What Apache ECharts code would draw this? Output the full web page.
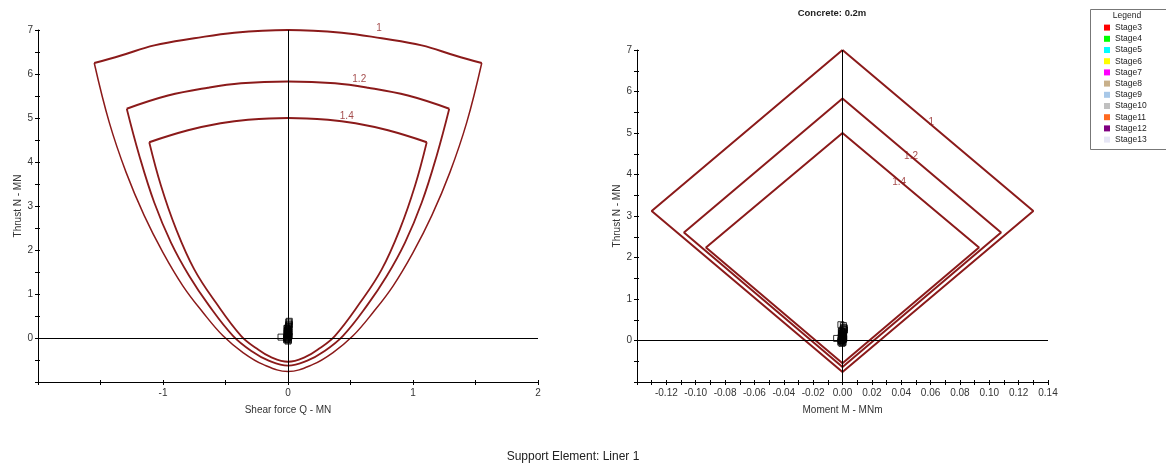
<!DOCTYPE html>
<html>
<head>
<meta charset="utf-8">
<script src="https://cdn.jsdelivr.net/npm/echarts@6/dist/echarts.min.js"></script>
<style>html,body{margin:0;padding:0;background:#fff}#c{width:1166px;height:468px}</style>
</head>
<body>
<div id="c"></div>
<script>
const FONT = '"Liberation Sans", Arial, sans-serif';
const ENV_COLOR = '#8b1a1a';

const factorLabels = ['1', '1.2', '1.4'];

// Shear force Q – Thrust N capacity envelopes (FS = 1, 1.2, 1.4)
const shearArc1 = [[-1.55,6.25],[-1.336,6.42],[-1.07,6.65],[-0.75,6.81],[-0.43,6.94],[0,7.0],[0.43,6.94],[0.75,6.81],[1.07,6.65],[1.336,6.42],[1.55,6.25]];
const shearU1 = [[-1.55,6.25],[-1.43,4.90],[-1.296,3.77],[-1.15,2.78],[-1.00,1.94],[-0.84,1.18],[-0.68,0.58],[-0.52,0.05],[-0.36,-0.33],[-0.20,-0.60],[0,-0.76],[0.20,-0.60],[0.36,-0.33],[0.52,0.05],[0.68,0.58],[0.84,1.18],[1.00,1.94],[1.15,2.78],[1.296,3.77],[1.43,4.90],[1.55,6.25]];
const shearArc2 = [[-1.29,5.21],[-0.96,5.51],[-0.64,5.69],[-0.376,5.79],[0,5.83],[0.376,5.79],[0.64,5.69],[0.96,5.51],[1.29,5.21]];
const shearU2 = [[-1.29,5.21],[-1.19,4.15],[-1.07,3.08],[-0.936,2.17],[-0.79,1.41],[-0.63,0.73],[-0.44,0.05],[-0.29,-0.30],[-0.15,-0.52],[0,-0.63],[0.15,-0.52],[0.29,-0.30],[0.44,0.05],[0.63,0.73],[0.79,1.41],[0.936,2.17],[1.07,3.08],[1.19,4.15],[1.29,5.21]];
const shearArc3 = [[-1.11,4.45],[-0.80,4.72],[-0.54,4.88],[-0.32,4.96],[0,5.0],[0.32,4.96],[0.54,4.88],[0.80,4.72],[1.11,4.45]];
const shearU3 = [[-1.11,4.45],[-1.016,3.46],[-0.896,2.48],[-0.75,1.56],[-0.576,0.80],[-0.376,0.05],[-0.25,-0.24],[-0.14,-0.43],[0,-0.54],[0.14,-0.43],[0.25,-0.24],[0.376,0.05],[0.576,0.80],[0.75,1.56],[0.896,2.48],[1.016,3.46],[1.11,4.45]];

// Moment M – Thrust N capacity envelopes
const momentEnv1 = [[0,7.0],[0.13,3.12],[0,-0.76],[-0.13,3.12],[0,7.0]];
const momentEnv2 = [[0,5.83],[0.108,2.60],[0,-0.64],[-0.108,2.60],[0,5.83]];
const momentEnv3 = [[0,5.0],[0.093,2.24],[0,-0.55],[-0.093,2.24],[0,5.0]];

// curve factor label anchors (data coordinates)
const shearLabelPos = [[0.728,7.04],[0.57,5.88],[0.47,5.03]];
const momentLabelPos = [[0.0605,5.27],[0.0467,4.45],[0.0386,3.82]];

// stages
const stageNames = ['Stage3','Stage4','Stage5','Stage6','Stage7','Stage8','Stage9','Stage10','Stage11','Stage12','Stage13'];
const stageColors = ['#ff0000','#00ff00','#00ffff','#ffff00','#ff00ff','#c8b08a','#a8c8e8','#c0c0c0','#ff6a20','#800080','#e6e6f5'];
const stageThrust = [
  [0.05,0.12,0.20,0.00],[0.02,0.15,0.25,-0.03],[-0.05,0.08,0.18,0.10],[0.00,0.10,0.22,0.04],
  [0.06,0.18,0.30,0.12],[-0.02,0.12,0.28,0.06],[0.04,0.16,0.26,0.00],[-0.07,0.05,0.20,0.14],
  [0.02,0.14,0.32,0.08],[0.08,0.22,0.38,0.02],[-0.04,0.10,0.36,0.18]
];
const stageShear = [
  [0.005,-0.005,0.008,-0.010],[-0.008,0.004,0.006,0.002],[0.003,-0.010,0.004,-0.004],[-0.004,0.006,-0.006,0.008],
  [0.008,-0.002,0.010,-0.006],[-0.006,0.005,0.004,0.000],[0.004,-0.006,0.006,-0.008],[0.000,-0.004,0.002,0.006],
  [-0.056,0.006,0.008,-0.002],[0.002,-0.008,0.010,0.004],[-0.012,0.004,0.006,-0.004]
];
const stageMoment = [
  [0.0004,-0.0006,0.0008,-0.0010],[-0.0008,0.0004,0.0012,0.0002],[0.0003,-0.0010,0.0004,-0.0004],[-0.0004,0.0006,-0.0006,0.0008],
  [0.0008,-0.0002,0.0012,-0.0006],[-0.0006,0.0005,0.0004,0.0000],[0.0004,-0.0006,0.0012,-0.0008],[-0.0004,-0.0040,0.0002,0.0006],
  [0.0002,0.0006,0.0008,-0.0002],[0.0002,-0.0008,-0.0011,0.0004],[-0.0012,0.0004,0.0006,-0.0004]
];

const envLine = (w) => ({ color: ENV_COLOR, width: w });

function lineSeries(data, xi, yi, w, smooth) {
  return { type: 'line', data, xAxisIndex: xi, yAxisIndex: yi, showSymbol: false, symbol: 'none',
    smooth: smooth, lineStyle: envLine(w), silent: true, z: 2 };
}
function zeroLines(s) {
  s.markLine = { silent: true, symbol: 'none', animation: false, label: { show: false },
    lineStyle: { color: '#000', width: 1, type: 'solid' },
    data: [{ xAxis: 0 }, { yAxis: 0 }] };
  return s;
}
function labelSeries(pos, xi, yi) {
  return { type: 'scatter', xAxisIndex: xi, yAxisIndex: yi, symbolSize: 0, silent: true, z: 3, clip: false,
    data: pos.map((p, i) => [p[0], p[1], factorLabels[i]]),
    label: { show: true, position: [0, 0], align: 'center', verticalAlign: 'middle',
      formatter: (p) => p.data[2], color: ENV_COLOR, fontSize: 10, fontFamily: FONT } };
}

const series = [];
series.push(zeroLines(lineSeries(shearArc1, 0, 0, 2, 0.4)));
series.push(lineSeries(shearU1, 0, 0, 1.5, 0.4));
series.push(lineSeries(shearArc2, 0, 0, 2, 0.4));
series.push(lineSeries(shearU2, 0, 0, 1.8, 0.4));
series.push(lineSeries(shearArc3, 0, 0, 2, 0.4));
series.push(lineSeries(shearU3, 0, 0, 1.8, 0.4));
series.push(zeroLines(lineSeries(momentEnv1, 2, 2, 2, false)));
series.push(lineSeries(momentEnv2, 2, 2, 2, false));
series.push(lineSeries(momentEnv3, 2, 2, 2, false));
series.push(labelSeries(shearLabelPos, 0, 0));
series.push(labelSeries(momentLabelPos, 2, 2));

stageNames.forEach((name, i) => {
  const style = { color: 'rgba(255,255,255,0)', borderColor: '#000', borderWidth: 1 };
  series.push({ type: 'scatter', name, xAxisIndex: 0, yAxisIndex: 0, symbol: 'rect', symbolSize: 6,
    itemStyle: style, z: 4, data: stageShear[i].map((q, j) => [q, stageThrust[i][j]]) });
  series.push({ type: 'scatter', name, xAxisIndex: 2, yAxisIndex: 2, symbol: 'rect', symbolSize: 6,
    itemStyle: style, z: 4, data: stageMoment[i].map((m, j) => [m, stageThrust[i][j]]) });
});

const axisText = { color: '#333', fontSize: 10, fontFamily: FONT };
const black = { color: '#000', width: 1 };

function mainX(grid, min, max, interval, fmt, name) {
  return { type: 'value', gridIndex: grid, position: 'bottom', min, max, interval, name, nameLocation: 'middle', nameGap: 23,
    nameTextStyle: { color: '#333', fontSize: 10, fontFamily: FONT },
    axisLine: { show: true, onZero: false, lineStyle: black },
    axisTick: { show: true, length: 3, lineStyle: black },
    axisLabel: Object.assign({ formatter: fmt, margin: 6 }, axisText),
    splitLine: { show: false } };
}
function tickX(grid, min, max, interval) {
  return { type: 'value', gridIndex: grid, position: 'bottom', min, max, interval,
    axisLine: { show: false, onZero: false }, axisLabel: { show: false }, splitLine: { show: false },
    axisTick: { show: true, inside: true, length: 2, lineStyle: black } };
}
function mainY(grid) {
  return { type: 'value', gridIndex: grid, position: 'left', min: -1, max: 7, interval: 0.5, name: 'Thrust N - MN',
    nameLocation: 'middle', nameGap: 15, nameTextStyle: { color: '#333', fontSize: 10, fontFamily: FONT },
    axisLine: { show: true, onZero: false, lineStyle: black },
    axisTick: { show: true, length: 3, lineStyle: black },
    axisLabel: Object.assign({ margin: 5, formatter: (v) => {
      const r = Math.round(v);
      return (Math.abs(v - r) < 1e-9 && r > -1) ? String(r) : '';
    } }, axisText),
    splitLine: { show: false } };
}
function tickY(grid) {
  return { type: 'value', gridIndex: grid, position: 'left', min: -1, max: 7, interval: 0.5,
    axisLine: { show: false, onZero: false }, axisLabel: { show: false }, splitLine: { show: false },
    axisTick: { show: true, inside: true, length: 2, lineStyle: black } };
}

const shearFmt = (v) => { const r = Math.round(v); return (Math.abs(v - r) < 1e-9 && r > -2) ? String(r) : ''; };
const momentFmt = (v) => { const n = Math.round(v * 100); return (n % 2 === 0 && n > -14) ? (n / 100).toFixed(2) : ''; };

const option = {
  animation: false,
  backgroundColor: '#fff',
  grid: [
    { left: 38, top: 30, width: 500, height: 352 },
    { left: 637, top: 50, width: 411, height: 332 }
  ],
  xAxis: [
    mainX(0, -2, 2, 0.5, shearFmt, 'Shear force Q - MN'), tickX(0, -2, 2, 0.5),
    mainX(1, -0.14, 0.14, 0.01, momentFmt, 'Moment M - MNm'), tickX(1, -0.14, 0.14, 0.01)
  ],
  yAxis: [ mainY(0), tickY(0), mainY(1), tickY(1) ],
  legend: {
    orient: 'vertical', left: 1104, top: 22, padding: 0, itemGap: 0, itemWidth: 6, itemHeight: 6,
    itemTextGap: 24, selectedMode: false, icon: 'rect',
    textStyle: { fontSize: 8.5, lineHeight: 11.2, color: '#222', fontFamily: FONT },
    data: stageNames.map((n, i) => ({ name: n, icon: 'rect',
      itemStyle: { color: stageColors[i], borderWidth: 0, opacity: 1 } }))
  },
  graphic: [
    { type: 'rect', left: 1088, top: 7, shape: { width: 77, height: 140 }, silent: true,
      style: { fill: 'none', stroke: '#777', lineWidth: 1 } },
    { type: 'text', x: 1127, y: 15.5, silent: true,
      style: { text: 'Legend', font: '8.5px ' + FONT, fill: '#222', textAlign: 'center', textVerticalAlign: 'middle' } },
    { type: 'text', x: 832, y: 13, silent: true,
      style: { text: 'Concrete: 0.2m', font: 'bold 9.5px ' + FONT, fill: '#222', textAlign: 'center', textVerticalAlign: 'middle' } },
    { type: 'text', x: 573, y: 457, silent: true,
      style: { text: 'Support Element: Liner 1', font: '12px ' + FONT, fill: '#222', textAlign: 'center', textVerticalAlign: 'middle' } }
  ],
  series
};

const chart = echarts.init(document.getElementById('c'), null, { renderer: 'canvas' });
chart.setOption(option);
</script>
</body>
</html>
